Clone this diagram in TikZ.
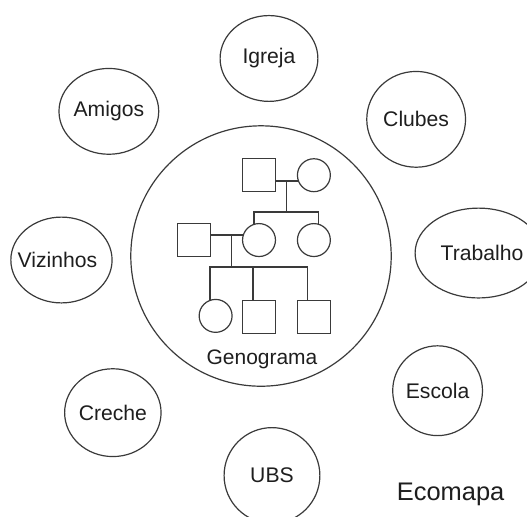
\documentclass[tikz,border=0pt]{standalone}
\usepackage{fontspec}
\setmainfont{Liberation Sans}
\usetikzlibrary{shapes.geometric,calc}
\definecolor{linec}{HTML}{3A3A3A}
\definecolor{textc}{HTML}{1E1E1E}
\begin{document}
\begin{tikzpicture}[x=1pt,y=-1pt,
  every path/.style={draw=linec, line width=1.2pt},
  ring/.style={ellipse, draw=linec, line width=1.2pt, inner sep=0pt, text=textc,
    font=\fontsize{21.2}{24}\selectfont},
  male/.style={rectangle, draw=linec, line width=1.2pt, minimum size=33pt, inner sep=0pt},
  female/.style={circle, draw=linec, line width=1.2pt, minimum size=33pt, inner sep=0pt},
  lbl/.style={text=textc, inner sep=0pt, font=\fontsize{21}{24}\selectfont}]
\useasboundingbox (0,0) rectangle (527,516);
\fill[white] (0,0) rectangle (527,516);

% outer ring of the ecomap
\node[ring, minimum width=98pt, minimum height=86pt] (igreja) at (269,58) {Igreja};
\node[ring, minimum width=89pt, minimum height=86pt] (amigos) at (108.5,111) {Amigos};
\node[ring, minimum width=99pt, minimum height=96pt] (clubes) at (416.5,119) {Clubes};
\node[ring, minimum width=98pt, minimum height=86pt] (vizinhos) at (61,260) {\hspace*{-8pt}Vizinhos};
\node[ring, minimum width=95pt, minimum height=90pt] (trabalho) at (479,253) {\hspace*{7pt}Trabalho};
\node[ring, minimum width=88pt, minimum height=88pt] (creche) at (112.5,413) {Creche};
\node[ring, minimum width=89pt, minimum height=90pt] (escola) at (438,391) {Escola};
\node[ring, minimum width=96pt, minimum height=96pt] (ubs) at (272,476) {UBS};

% central family circle
\node[circle, draw=linec, line width=1.2pt, minimum size=261pt, inner sep=0pt] (familia) at (261,256) {};
\node[lbl] (geno) at (262,360) {Genograma};
\node[lbl, font=\fontsize{25.5}{30}\selectfont] (ecomapa) at (451,495) {Ecomapa};

% genogram: first generation
\node[male] (gf) at (259,174.5) {};
\node[female] (gm) at (314,175) {};
% second generation
\node[male] (fa) at (193.5,240) {};
\node[female] (mo) at (259,240) {};
\node[female] (au) at (314,240) {};
% third generation
\node[female] (c1) at (215.5,316) {};
\node[male] (c2) at (259,317) {};
\node[male] (c3) at (314,317) {};

% first couple
\draw (gf.east |- gm.200) -- (gm.200);
\coordinate (m1) at ($(gf.east |- gm.200)!0.48!(gm.200)$);
\coordinate (s1) at ($(m1)+(0,31)$);
\draw (m1) -- (s1);
\draw (mo.107) -- (mo.107 |- s1) -- (au.73 |- s1) -- (au.73);

% second couple
\draw (fa.east |- mo.163) -- (mo.163);
\coordinate (m2) at ($(fa.east |- mo.163)!0.66!(mo.163)$);
\coordinate (s2) at ($(m2)+(0,32)$);
\draw (m2) -- (s2);
\coordinate (d2) at ([xshift=-6pt]c2.north);
\coordinate (d3) at ([xshift=-6pt]c3.north);
\draw (c1.109) -- (c1.109 |- s2) -- (d3 |- s2) -- (d3);
\draw (d2 |- s2) -- (d2);
\end{tikzpicture}
\end{document}
